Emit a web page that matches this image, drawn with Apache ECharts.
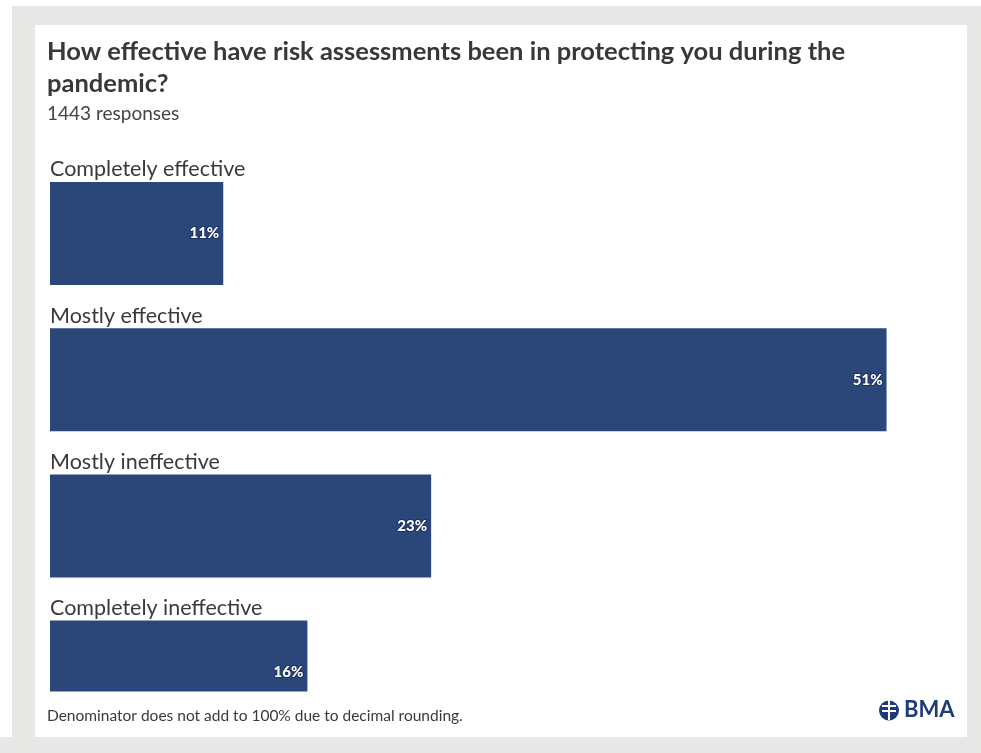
<!DOCTYPE html>
<html>
<head>
<meta charset="utf-8">
<script src="https://cdn.jsdelivr.net/npm/echarts@6/dist/echarts.min.js"></script>
<style>html,body{margin:0;padding:0;background:#fff}#c{width:981px;height:753px}</style>
</head>
<body>
<div id="c"></div>
<script>
var titleLines = ['How effective have risk assessments been in protecting you during the', 'pandemic?'];
var subtitle = '1443 responses';
var footnote = 'Denominator does not add to 100% due to decimal rounding.';
var categories = ['Completely effective', 'Mostly effective', 'Mostly ineffective', 'Completely ineffective'];
var values = [10.5, 50.7, 23.1, 15.6];

var FONT = 'Lato';
var chart = echarts.init(document.getElementById('c'));
chart.setOption({
  backgroundColor: '#ffffff',
  animation: false,
  title: {
    text: titleLines.join('\n'),
    subtext: subtitle,
    left: 47, top: 36, itemGap: 3, padding: 0,
    textStyle: { fontFamily: FONT, fontWeight: 'bold', fontSize: 25.5, lineHeight: 32, color: '#383838' },
    subtextStyle: { fontFamily: FONT, fontSize: 19, lineHeight: 22, color: '#444444' }
  },
  grid: { left: 50, top: 160.4, width: 907.5, height: 584.8, containLabel: false },
  xAxis: { type: 'value', min: 0, max: 55, show: false },
  yAxis: {
    type: 'category', inverse: true, data: categories,
    axisLine: { show: false }, axisTick: { show: false }, splitLine: { show: false },
    axisLabel: {
      inside: true, margin: 0, interval: 0, hideOverlap: false, align: 'left', verticalAlign: 'middle',
      formatter: function (v) { return '{n|' + v + '}\n{g|}'; },
      rich: {
        n: { fontFamily: FONT, fontSize: 21.5, lineHeight: 26, color: '#3a3a3a', align: 'left' },
        g: { lineHeight: 128, height: 128, fontSize: 1 }
      }
    }
  },
  series: [{
    type: 'bar', data: values, barWidth: 103,
    itemStyle: { color: '#2b4678' },
    label: {
      show: true, position: 'insideRight', distance: 4,
      formatter: function (p) { return Math.round(p.value) + '%'; },
      fontFamily: FONT, fontWeight: 900, fontSize: 15, color: '#ffffff',
      textBorderColor: '#1c3060', textBorderWidth: 2
    }
  }],
  graphic: [
    { type: 'rect', z: -10, silent: true, shape: { x: 12, y: 6, width: 969, height: 747 }, style: { fill: '#e7e7e5' } },
    { type: 'rect', z: -9, silent: true, shape: { x: 35, y: 25, width: 932, height: 712 }, style: { fill: '#ffffff' } },
    { type: 'rect', z: 50, silent: true, shape: { x: 35, y: 691.5, width: 932, height: 45.5 }, style: { fill: '#ffffff' } },
    { type: 'rect', z: 50, silent: true, shape: { x: 0, y: 737, width: 981, height: 16 }, style: { fill: '#e7e7e5' } },
    { type: 'text', z: 51, left: 47, top: 708, style: { text: footnote, fontFamily: FONT, fontSize: 15.5, fill: '#3a3a3a' } },
    { type: 'circle', z: 51, shape: { cx: 889, cy: 710.5, r: 10 }, style: { fill: '#1f3a78' } },
    { type: 'rect', z: 52, shape: { x: 882, y: 705, width: 14, height: 2 }, style: { fill: '#ffffff' } },
    { type: 'rect', z: 52, shape: { x: 882, y: 710, width: 14, height: 2 }, style: { fill: '#ffffff' } },
    { type: 'rect', z: 52, shape: { x: 888, y: 700, width: 2, height: 20 }, style: { fill: '#ffffff' } },
    { type: 'text', z: 51, left: 904, top: 699, style: { text: 'BMA', fontFamily: FONT, fontWeight: 'bold', fontSize: 22, fill: '#1f3a78' } }
  ]
});
</script>
</body>
</html>
